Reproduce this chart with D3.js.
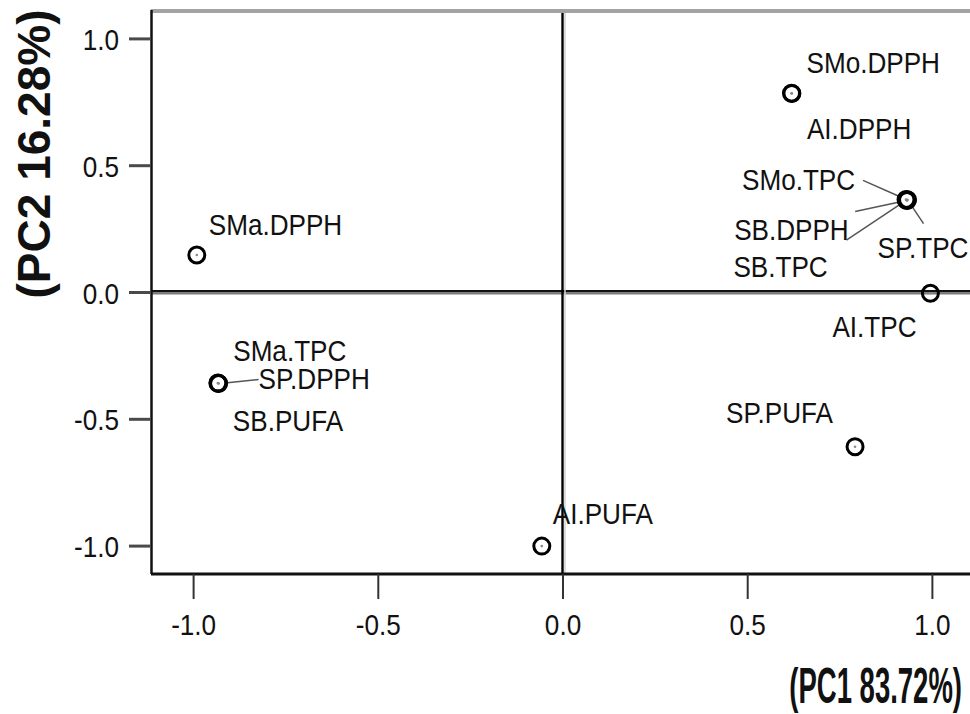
<!DOCTYPE html>
<html>
<head>
<meta charset="utf-8">
<script src="https://cdn.jsdelivr.net/npm/d3@7"></script>
<style>
  body { margin: 0; background: #fff; }
  text { font-family: "Liberation Sans", Arial, sans-serif; fill: #111; }
</style>
</head>
<body>
<script>
// component loadings
const names = ["SMa.DPPH", "SMo.DPPH", "AI.DPPH", "SMo.TPC", "SB.DPPH", "SB.TPC", "SP.TPC",
               "AI.TPC", "SMa.TPC", "SP.DPPH", "SB.PUFA", "SP.PUFA", "AI.PUFA"];
const pc1 = [-0.990, 0.620, 0.621, 0.930, 0.933, 0.931, 0.934, 0.996, -0.932, -0.931, -0.933, 0.792, -0.056];
const pc2 = [0.146, 0.784, 0.783, 0.365, 0.361, 0.362, 0.364, -0.005, -0.360, -0.361, -0.359, -0.610, -1.002];

const xTicks = [-1.0, -0.5, 0.0, 0.5, 1.0];
const yTicks = [1.0, 0.5, 0.0, -0.5, -1.0];
const xTitle = "(PC1 83.72%)";
const yTitle = "(PC2 16.28%)";

// label placement in px relative to the marker (left / baseline), and leader line ends
const labelDx = [12, 15, 15, -164, -173, -173, -30, -98, 15, 40, 15, -129, 11];
const labelDy = [-20, -20, 46, -9, 40, 77, 58, 44, -22, 5, 48, -24, -22];
const leaderEnd = [null, null, null, [-43, -19], [-52, 11], [-60, 40], [16, 24], null, null, [40, -4], null, null, null];

const W = 970, H = 714;
const plotL = 151, plotR = 974, plotT = 10, plotB = 574;
const sx = 0.87;

const svg = d3.select("body").append("svg")
  .attr("width", W)
  .attr("height", H);

const x = d3.scaleLinear().domain([-1.114, 1.114]).range([plotL, plotR]);
const y = d3.scaleLinear().domain([-1.112, 1.112]).range([plotB, plotT]);

// zero reference lines
svg.append("line")
  .attr("x1", plotL).attr("x2", plotR)
  .attr("y1", y(0) - 0.8).attr("y2", y(0) - 0.8)
  .attr("stroke", "#111").attr("stroke-width", 2.5);
svg.append("line")
  .attr("x1", plotL).attr("x2", plotR)
  .attr("y1", y(0) + 1.6).attr("y2", y(0) + 1.6)
  .attr("stroke", "#7a7a7a").attr("stroke-width", 2);
svg.append("line")
  .attr("x1", x(0) + 2.5).attr("x2", x(0) + 2.5)
  .attr("y1", plotT).attr("y2", plotB)
  .attr("stroke", "#d0d0d0").attr("stroke-width", 1.5);
svg.append("line")
  .attr("x1", x(0)).attr("x2", x(0))
  .attr("y1", plotT).attr("y2", plotB)
  .attr("stroke", "#000").attr("stroke-width", 2.4);

// frame
svg.append("line")
  .attr("x1", plotL).attr("x2", W)
  .attr("y1", 11).attr("y2", 11)
  .attr("stroke", "#a3a3a3").attr("stroke-width", 4);
svg.append("line")
  .attr("x1", plotL + 0.5).attr("x2", plotL + 0.5)
  .attr("y1", plotT).attr("y2", plotB)
  .attr("stroke", "#111").attr("stroke-width", 2.5);
svg.append("line")
  .attr("x1", plotL).attr("x2", W)
  .attr("y1", plotB).attr("y2", plotB)
  .attr("stroke", "#111").attr("stroke-width", 3);

// axes
const fmt = d => d.toFixed(1);

const gx = svg.append("g")
  .attr("transform", `translate(0,${plotB})`)
  .call(d3.axisBottom(x).tickValues(xTicks).tickSize(25).tickFormat(fmt));
gx.select(".domain").remove();
gx.selectAll(".tick line").attr("stroke", "#333").attr("stroke-width", 2);
gx.selectAll(".tick text")
  .attr("y", null).attr("dy", null)
  .attr("transform", `translate(0,61) scale(${sx},1)`)
  .attr("text-anchor", "middle")
  .style("font-size", "30px")
  .style("font-family", '"Liberation Sans", Arial, sans-serif')
  .attr("fill", "#1a1a1a");

const gy = svg.append("g")
  .attr("transform", `translate(${plotL},0)`)
  .call(d3.axisLeft(y).tickValues(yTicks).tickSize(22).tickFormat(fmt));
gy.select(".domain").remove();
gy.selectAll(".tick line").attr("stroke", "#4a4a4a").attr("stroke-width", 3);
gy.selectAll(".tick text")
  .attr("x", null).attr("dy", null)
  .attr("transform", `translate(-32,11) scale(${sx},1)`)
  .attr("text-anchor", "end")
  .style("font-size", "30px")
  .style("font-family", '"Liberation Sans", Arial, sans-serif')
  .attr("fill", "#1a1a1a");

// axis titles
svg.append("text")
  .attr("transform", "translate(50,154) rotate(-90)")
  .attr("text-anchor", "middle")
  .style("font-size", "46px")
  .style("font-weight", "bold")
  .text(yTitle);

svg.append("text")
  .attr("transform", "translate(962,703) scale(0.55,1)")
  .attr("text-anchor", "end")
  .style("font-size", "50px")
  .style("font-weight", "bold")
  .text(xTitle);

// points
const pts = names.map((n, i) => ({ name: n, px: x(pc1[i]), py: y(pc2[i]), i: i }));
const r = 8;

svg.append("g").selectAll("line")
  .data(pts.filter(d => leaderEnd[d.i]))
  .join("line")
  .each(function (d) {
    const e = leaderEnd[d.i];
    const len = Math.hypot(e[0], e[1]);
    d3.select(this)
      .attr("x1", d.px + e[0] / len * (r + 1))
      .attr("y1", d.py + e[1] / len * (r + 1))
      .attr("x2", d.px + e[0])
      .attr("y2", d.py + e[1]);
  })
  .attr("stroke", "#555")
  .attr("stroke-width", 1.5);

svg.append("g").selectAll("circle")
  .data(pts)
  .join("circle")
  .attr("cx", d => d.px)
  .attr("cy", d => d.py)
  .attr("r", r)
  .attr("fill", "none")
  .attr("stroke", "#000")
  .attr("stroke-width", 3);

svg.append("g").selectAll("circle")
  .data(pts)
  .join("circle")
  .attr("cx", d => d.px)
  .attr("cy", d => d.py)
  .attr("r", 1.3)
  .attr("fill", "#888");

svg.append("g").selectAll("text")
  .data(pts)
  .join("text")
  .attr("transform", d => `translate(${d.px + labelDx[d.i]},${d.py + labelDy[d.i]}) scale(${sx},1)`)
  .style("font-size", "30px")
  .text(d => d.name);
</script>
</body>
</html>
